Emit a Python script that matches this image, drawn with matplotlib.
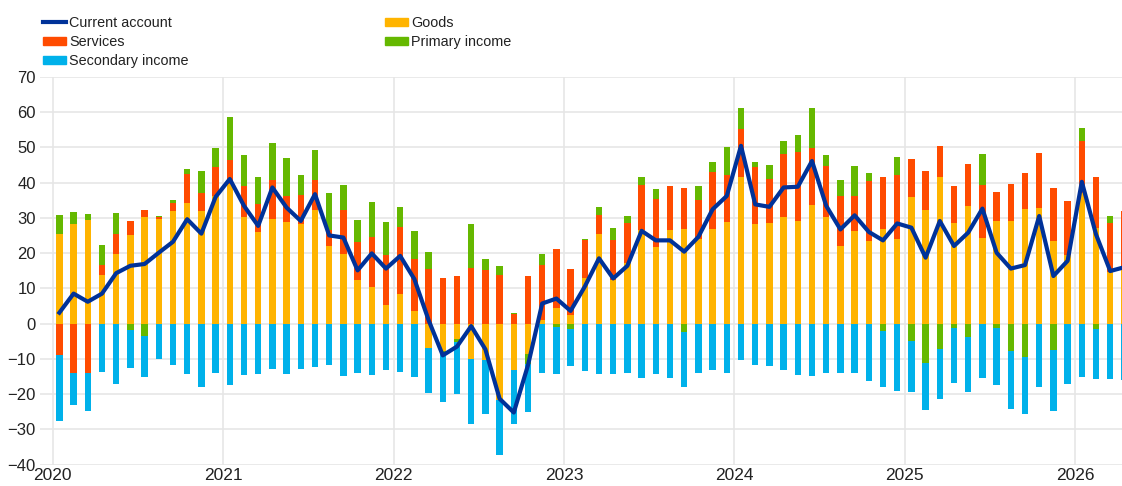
import numpy as np
import matplotlib
matplotlib.use("Agg")
import matplotlib.pyplot as plt
from matplotlib.lines import Line2D
from matplotlib.patches import Patch

plt.rcParams['font.family'] = ['Liberation Sans', 'DejaVu Sans']

# monthly data, Jan 2020 - Apr 2026
goods = [25.5, 28.3, 29.4, 13.8, 19.7, 25.1, 30.2, 29.6, 31.8, 34.2, 31.8, 36.2,
         39.5, 30.1, 26.0, 29.7, 28.7, 28.3, 32.1, 22.0, 19.7, 12.3, 10.3, 5.2,
         8.3, 3.7, -7.0, -7.8, -4.3, -10.1, -10.4, -21.6, -13.1, -8.7, 1.0, 4.3,
         2.4, 12.9, 25.3, 12.4, 17.3, 26.6, 21.6, 26.6, 26.7, 24.1, 26.9, 28.8,
         41.7, 28.2, 28.5, 30.1, 29.0, 33.6, 30.2, 22.0, 26.3, 23.3, 26.9, 23.9,
         35.8, 32.3, 41.7, 28.6, 33.3, 24.2, 29.0, 29.0, 32.6, 32.9, 23.4, 19.5,
         37.0, 27.0, 14.5, 16.0]
services = [-8.9, -13.9, -14.0, 2.7, 5.6, 3.9, 1.9, 0.7, 2.4, 8.1, 5.3, 8.3,
            6.8, 8.8, 7.8, 11.0, 7.6, 8.2, 8.6, 4.6, 12.4, 10.9, 14.3, 14.3,
            19.1, 14.7, 15.6, 12.9, 13.5, 15.7, 15.1, 13.9, 2.6, 13.4, 15.5, 16.8,
            13.1, 10.9, 5.4, 11.4, 11.1, 12.7, 13.8, 12.3, 11.8, 10.9, 16.1, 13.3,
            13.6, 16.2, 12.4, 18.1, 19.7, 16.3, 14.5, 14.1, 10.0, 17.2, 14.8, 18.3,
            10.8, 11.1, 8.7, 10.5, 11.9, 15.1, 8.3, 10.6, 10.0, 15.6, 15.1, 15.3,
            14.7, 14.6, 13.9, 16.0]
primary = [5.4, 3.2, 1.8, 5.8, 6.1, -1.8, -3.5, 0.3, 0.9, 1.5, 6.3, 5.4,
           12.4, 8.9, 7.8, 10.4, 10.7, 5.7, 8.6, 10.4, 7.3, 6.1, 9.9, 9.3,
           5.6, 7.8, 4.7, -0.9, -0.9, 12.4, 3.1, 2.5, 0.5, -2.8, 3.2, -0.9,
           -1.6, 0.3, 2.5, 3.2, 2.1, 2.3, 2.7, 0.0, -2.4, 4.0, 2.7, 8.0,
           5.7, 1.3, 4.0, 3.7, 4.7, 11.3, 3.1, 4.6, 8.4, 2.1, -2.1, 5.0,
           -4.9, -11.2, -7.3, -1.3, -3.7, 8.7, -1.2, -7.8, -9.4, 0.0, -7.6, 0.0,
           3.7, -1.4, 2.1, 0.0]
secondary = [-18.8, -9.1, -10.8, -13.6, -17.2, -10.8, -11.5, -10.1, -11.8, -14.2, -18.0, -14.0,
             -17.5, -14.7, -14.2, -12.8, -14.2, -12.9, -12.2, -11.8, -14.8, -14.0, -14.7, -13.1,
             -13.7, -15.0, -12.7, -13.4, -14.7, -18.4, -15.3, -15.7, -15.3, -13.5, -14.1, -13.4,
             -10.4, -13.4, -14.4, -14.4, -14.1, -15.3, -14.4, -15.4, -15.5, -13.9, -13.2, -13.9,
             -10.4, -11.8, -12.0, -13.2, -14.7, -14.9, -14.1, -13.9, -14.0, -16.3, -15.8, -19.1,
             -14.6, -13.3, -14.2, -15.6, -15.6, -15.4, -16.1, -16.3, -16.3, -18.0, -17.2, -17.0,
             -15.0, -14.4, -15.7, -16.0]
current_account = [3.1, 8.5, 6.2, 8.5, 14.3, 16.4, 16.9, 20.1, 23.2, 29.6, 25.5, 35.9,
                   41.0, 33.4, 27.7, 38.6, 32.9, 29.1, 36.7, 25.0, 24.4, 15.1, 19.9, 15.6,
                   19.2, 12.6, 1.0, -9.0, -6.5, -0.7, -7.3, -21.3, -25.2, -11.8, 5.7, 7.1,
                   3.6, 10.5, 18.5, 12.8, 16.4, 26.3, 23.6, 23.6, 20.4, 24.6, 32.4, 36.2,
                   50.4, 33.8, 33.1, 38.6, 38.8, 46.1, 33.4, 26.7, 30.7, 26.0, 23.6, 28.4,
                   27.2, 18.7, 29.1, 22.0, 25.8, 32.6, 20.1, 15.6, 16.6, 30.5, 13.5, 17.8,
                   40.2, 25.3, 14.9, 16.0]
years = [2020, 2021, 2022, 2023, 2024, 2025, 2026]

c_goods = '#FFB400'
c_serv = '#FF4B00'
c_prim = '#65B800'
c_sec = '#00B1EA'
c_ca = '#003299'

fig = plt.figure(figsize=(11.22, 4.86), dpi=100)
ax = fig.add_axes([40/1122, 21.3/486, 1082/1122, 388/486])

x = np.arange(len(goods)) + 0.47
pos_bottom = np.zeros(len(goods))
neg_bottom = np.zeros(len(goods))
#stack positives upward and negatives downward in same order
for vals, col in [(goods, c_goods), (services, c_serv), (primary, c_prim), (secondary, c_sec)]:
    v = np.array(vals)
    bottom = np.where(v >= 0, pos_bottom, neg_bottom)
    ax.bar(x, v, width=0.45, bottom=bottom, color=col, linewidth=0)
    pos_bottom = pos_bottom + np.where(v >= 0, v, 0)
    neg_bottom = neg_bottom + np.where(v < 0, v, 0)

ax.plot(x, current_account, color=c_ca, lw=3, solid_joinstyle='round')

ax.set_xlim(-0.894, 75.3)
ax.set_ylim(-40, 70)
ax.set_yticks(range(-40, 71, 10))
ax.set_xticks([12*i for i in range(len(years))])
ax.set_xticklabels([str(y) for y in years])
ax.set_axisbelow(True)
ax.grid(True, color='#e6e6e6', lw=1.2)
for s in ax.spines.values():
    s.set_visible(False)
ax.tick_params(axis='both', length=0, colors='#222222')
ax.tick_params(axis='y', labelsize=12, pad=3)
ax.tick_params(axis='x', labelsize=12.5, pad=2.5)

handles = [Line2D([0], [0], color=c_ca, lw=3),
           Patch(color=c_serv), Patch(color=c_sec),
           Patch(color=c_goods), Patch(color=c_prim)]
labels = ['Current account', 'Services', 'Secondary income', 'Goods', 'Primary income']
fig.legend(handles, labels, loc='upper left', bbox_to_anchor=(43/1122, 1 - 16/486),
           ncol=2, frameon=False, fontsize=10.4, borderpad=0, borderaxespad=0,
           handlelength=1.6, handleheight=0.45, handletextpad=0.2,
           labelspacing=0.35, columnspacing=13.6, labelcolor='#222222')

fig.savefig('out.png', dpi=100)
